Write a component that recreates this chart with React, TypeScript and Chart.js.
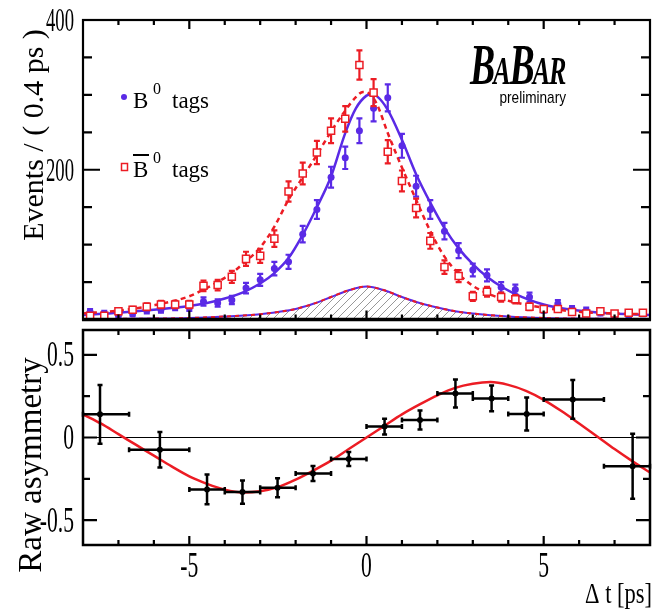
import React, { useEffect, useRef } from "react";
import { Chart, registerables } from "chart.js";
Chart.register(...registerables);

// ---------- data: top panel (events per 0.4 ps bin) ----------
const binCenters = [-7.8, -7.4, -7.0, -6.6, -6.2, -5.8, -5.4, -5.0, -4.6, -4.2, -3.8, -3.4, -3.0, -2.6, -2.2, -1.8, -1.4, -1.0, -0.6, -0.2, 0.2, 0.6, 1.0, 1.4, 1.8, 2.2, 2.6, 3.0, 3.4, 3.8, 4.2, 4.6, 5.0, 5.4, 5.8, 6.2, 6.6, 7.0, 7.4, 7.8];
const b0Tags = [10, 8, 6, 8, 12, 13, 17, 16, 24, 22, 26, 42, 53, 68, 77, 114, 147, 190, 216, 252, 282, 296, 232, 178, 147, 118, 92, 66, 59, 43, 40, 30, 13, 21, 14, 12, 9, 5, 5, 8];
const b0TagErr = [4, 3.5, 3, 3.5, 4, 4, 4.5, 4.5, 5.5, 5, 5.5, 7, 8, 9, 9.5, 11, 12.5, 14, 15, 16.5, 17.5, 18, 16, 14, 12.5, 11, 10, 8.5, 8, 7, 6.5, 6, 4, 5, 4, 4, 3.5, 3, 3, 3.5];
const b0barTags = [5, 5, 11, 13, 17, 20, 20, 20, 45, 46, 57, 81, 85, 108, 171, 195, 223, 252, 268, 340, 303, 224, 185, 149, 105, 70, 58, 31, 37, 30, 27, 17, 14, 14, 10, 8, 11, 8, 9, 9];
const b0barTagErr = [3, 3, 4, 4, 4.5, 5, 5, 5, 7, 7, 8, 9.5, 9.5, 11, 13.5, 14.5, 15.5, 16.5, 17, 19.5, 18, 15.5, 14, 12.5, 10.5, 9, 8, 6, 6.5, 6, 5.5, 4.5, 4, 4, 3.5, 3, 3.5, 3, 3, 3];

// fit curves
const fitB0T = [-8, -7, -6, -5, -4.5, -4, -3.5, -3, -2.6, -2.2, -1.8, -1.4, -1.0, -0.6, -0.3, 0, 0.15, 0.3, 0.6, 1.0, 1.4, 1.8, 2.2, 2.6, 3.0, 3.4, 3.8, 4.2, 5, 5.8, 6.6, 7.4, 8];
const fitB0 = [6, 9, 13, 18, 22, 28, 36, 48, 62, 82, 113, 150, 191, 249, 282, 299, 301, 298, 280, 240, 194, 156, 122, 95, 74, 57, 44, 34, 20, 13, 9, 7, 6];
const fitB0barT = [-8, -7, -6, -5, -4.6, -4.2, -3.8, -3.4, -3.0, -2.6, -2.2, -1.8, -1.4, -1.0, -0.6, -0.3, -0.1, 0.1, 0.3, 0.6, 1.0, 1.4, 1.8, 2.2, 2.6, 3.0, 3.8, 4.6, 5.8, 7, 8];
const fitB0bar = [8, 12, 19, 31, 40, 50, 62, 78, 96, 124, 160, 190, 220, 251, 279, 297, 304, 301, 287, 249, 203, 160, 118, 84, 61, 45, 28, 19, 11, 8, 7];
const bkgT = [-8, -7, -6, -5, -4, -3, -2.5, -2, -1.5, -1, -0.5, 0, 0.5, 1, 1.5, 2, 2.5, 3, 4, 5, 6, 7, 8];
const bkgYield = [0.5, 0.8, 1.2, 2, 4, 7, 10, 14, 21, 30, 39, 44, 39, 30, 22, 16, 11, 8, 4, 2, 1.2, 0.8, 0.5];

// ---------- data: bottom panel (raw asymmetry) ----------
const asymT = [-7.52, -5.83, -4.5, -3.5, -2.51, -1.51, -0.5, 0.51, 1.51, 2.51, 3.53, 4.52, 5.82, 7.51];
const asymV = [0.14, -0.074, -0.314, -0.33, -0.304, -0.218, -0.13, 0.066, 0.106, 0.266, 0.236, 0.142, 0.23, -0.174];
const asymErr = [0.178, 0.108, 0.09, 0.07, 0.057, 0.045, 0.043, 0.048, 0.058, 0.085, 0.078, 0.1, 0.117, 0.197];
const asymXLo = [-8, -6.7, -5, -4, -3, -2, -1, 0, 1, 2, 3, 4, 5, 6.7];
const asymXHi = [-6.7, -5, -4, -3, -2, -1, 0, 1, 2, 3, 4, 5, 6.7, 8];
const asymFitT = [-8, -7.5, -7, -6.5, -6, -5.5, -5, -4.5, -4, -3.5, -3, -2.5, -2, -1.5, -1, -0.5, 0, 0.5, 1, 1.5, 2, 2.5, 3, 3.5, 4, 4.5, 5, 5.5, 6, 6.5, 7, 7.5, 8];
const asymFit = [0.14, 0.085, 0.02, -0.045, -0.11, -0.175, -0.235, -0.28, -0.315, -0.332, -0.325, -0.3, -0.255, -0.2, -0.14, -0.07, 0, 0.07, 0.14, 0.2, 0.255, 0.3, 0.325, 0.335, 0.318, 0.282, 0.228, 0.16, 0.085, 0.008, -0.07, -0.143, -0.212];

// ---------- axis ticks ----------
const xMajorTicks = [-5, 0, 5];
const xMinorTicks = [-7, -6, -4, -3, -2, -1, 1, 2, 3, 4, 6, 7];
const topYMajor = [0, 200, 400];
const topYMinor = [50, 100, 150, 250, 300, 350];
const topYLabelVals = [200, 400];
const topYLabels = ["200", "400"];
const botYMajor = [-0.5, 0, 0.5];
const botYMinor = [-0.25, 0.25];
const botYLabelVals = [-0.5, 0, 0.5];
const botYLabels = ["-0.5", "0", "0.5"];
const botXLabelVals = [-5, 0, 5];
const botXLabels = ["-5", "0", "5"];

const BLUE = "#5a2ae6";
const RED = "#ec1c24";
const SERIF = "'Liberation Serif', 'DejaVu Serif', serif";
const SANS = "'Liberation Sans', 'DejaVu Sans', sans-serif";

type TxtOpt = { align?: CanvasTextAlign; base?: CanvasTextBaseline; sx?: number; sy?: number; rot?: number; color?: string };
function txt(ctx: CanvasRenderingContext2D, s: string, x: number, y: number, font: string, o: TxtOpt = {}) {
  ctx.save();
  ctx.translate(x, y);
  if (o.rot) ctx.rotate(o.rot);
  ctx.scale(o.sx ?? 1, o.sy ?? 1);
  ctx.font = font;
  ctx.textAlign = o.align ?? "left";
  ctx.textBaseline = o.base ?? "alphabetic";
  ctx.fillStyle = o.color ?? "#000";
  ctx.fillText(s, 0, 0);
  ctx.restore();
}

const errorBars = {
  id: "errorBars",
  beforeDatasetDraw(chart: any, args: any) {
    const ds: any = chart.data.datasets[args.index];
    if (!ds.errY) return;
    const ctx: CanvasRenderingContext2D = chart.ctx;
    const xs = chart.scales.x, ys = chart.scales.y;
    const cap = ds.errCap ?? 3;
    ctx.save();
    ctx.strokeStyle = ds.errColor;
    ctx.lineWidth = ds.errWidth ?? 2;
    ctx.beginPath();
    ds.data.forEach((p: any, i: number) => {
      const px = xs.getPixelForValue(p.x);
      const py = ys.getPixelForValue(p.y);
      const yt = ys.getPixelForValue(p.y + ds.errY[i]);
      const yb = ys.getPixelForValue(p.y - ds.errY[i]);
      ctx.moveTo(px, yt); ctx.lineTo(px, yb);
      ctx.moveTo(px - cap, yt); ctx.lineTo(px + cap, yt);
      ctx.moveTo(px - cap, yb); ctx.lineTo(px + cap, yb);
      if (ds.errXLo) {
        const xl = xs.getPixelForValue(ds.errXLo[i]);
        const xh = xs.getPixelForValue(ds.errXHi[i]);
        ctx.moveTo(xl, py); ctx.lineTo(xh, py);
        ctx.moveTo(xl, py - cap); ctx.lineTo(xl, py + cap);
        ctx.moveTo(xh, py - cap); ctx.lineTo(xh, py + cap);
      }
    });
    ctx.stroke();
    ctx.restore();
  },
};

function drawFrame(chart: any, c: any) {
  const ctx: CanvasRenderingContext2D = chart.ctx;
  const a = chart.chartArea;
  const xs = chart.scales.x, ys = chart.scales.y;
  ctx.save();
  ctx.strokeStyle = "#000";
  ctx.lineWidth = c.lw;
  ctx.strokeRect(a.left, a.top, a.right - a.left, a.bottom - a.top);
  if (c.bottomLw) {
    ctx.lineWidth = c.bottomLw;
    ctx.beginPath(); ctx.moveTo(a.left - 1, a.bottom); ctx.lineTo(a.right + 1, a.bottom); ctx.stroke();
  }
  ctx.lineWidth = 2.2;
  ctx.beginPath();
  const yt = (vals: number[], len: number) => vals.forEach((v) => {
    const py = ys.getPixelForValue(v);
    ctx.moveTo(a.left, py); ctx.lineTo(a.left + len, py);
    ctx.moveTo(a.right, py); ctx.lineTo(a.right - len, py);
  });
  const xt = (vals: number[], len: number) => vals.forEach((v) => {
    const px = xs.getPixelForValue(v);
    ctx.moveTo(px, a.top); ctx.lineTo(px, a.top + len);
    ctx.moveTo(px, a.bottom); ctx.lineTo(px, a.bottom - len);
  });
  yt(c.yMajor, c.yMajorLen); yt(c.yMinor, c.yMinorLen);
  xt(xMajorTicks, 9); xt(xMinorTicks, 5);
  ctx.stroke();
  ctx.restore();
}

export default function App() {
  const topRef = useRef<HTMLCanvasElement>(null);
  const botRef = useRef<HTMLCanvasElement>(null);

  useEffect(() => {
    const pc = document.createElement("canvas");
    pc.width = 8; pc.height = 8;
    const pctx = pc.getContext("2d")!;
    pctx.strokeStyle = "#8c8c8c";
    pctx.lineWidth = 0.9;
    pctx.beginPath();
    pctx.moveTo(0, 8); pctx.lineTo(8, 0);
    pctx.moveTo(-1, 1); pctx.lineTo(1, -1);
    pctx.moveTo(7, 9); pctx.lineTo(9, 7);
    pctx.stroke();
    const hatch = topRef.current!.getContext("2d")!.createPattern(pc, "repeat");

    const line = (t: number[], v: number[]) => t.map((x, i) => ({ x, y: v[i] }));

    const topDecor = {
      id: "topDecor",
      afterDraw(chart: any) {
        const ctx: CanvasRenderingContext2D = chart.ctx;
        const a = chart.chartArea;
        const ys = chart.scales.y;
        drawFrame(chart, { lw: 2.2, bottomLw: 3.5, yMajor: topYMajor, yMinor: topYMinor, yMajorLen: 17, yMinorLen: 9 });
        topYLabelVals.forEach((v, i) => {
          txt(ctx, topYLabels[i], a.left - 9, ys.getPixelForValue(v) + 2, `34px ${SERIF}`, { align: "right", base: "middle", sx: 0.55 });
        });
        txt(ctx, "Events / ( 0.4 ps )", 35, 135, `30px ${SERIF}`, { align: "center", base: "middle", rot: -Math.PI / 2 });
        // legend
        ctx.save();
        ctx.fillStyle = BLUE;
        ctx.beginPath(); ctx.arc(124, 97, 3, 0, Math.PI * 2); ctx.fill();
        ctx.strokeStyle = RED; ctx.lineWidth = 1.5; ctx.fillStyle = "#fff";
        ctx.fillRect(121.5, 163.5, 6, 7); ctx.strokeRect(121.5, 163.5, 6, 7);
        ctx.restore();
        txt(ctx, "B", 133, 108, `23px ${SERIF}`);
        txt(ctx, "0", 153, 94, `16px ${SERIF}`);
        txt(ctx, "tags", 172, 108, `23px ${SERIF}`);
        txt(ctx, "B", 133, 177, `23px ${SERIF}`);
        ctx.save();
        ctx.strokeStyle = "#000"; ctx.lineWidth = 2;
        ctx.beginPath(); ctx.moveTo(133, 155); ctx.lineTo(149, 155); ctx.stroke();
        ctx.restore();
        txt(ctx, "0", 153, 163, `16px ${SERIF}`);
        txt(ctx, "tags", 172, 177, `23px ${SERIF}`);
        // logo
        const parts: [string, number][] = [["B", 58], ["A", 40], ["B", 58], ["A", 40], ["R", 40]];
        let lx = 470;
        const sx = 0.65;
        parts.forEach(([ch, size]) => {
          const f = `italic bold ${size}px ${SERIF}`;
          txt(ctx, ch, lx, 84, f, { sx });
          ctx.save(); ctx.font = f; const w = ctx.measureText(ch).width; ctx.restore();
          lx += w * sx - (size > 45 ? 2 : 1);
        });
        txt(ctx, "preliminary", 566, 103, `17px ${SANS}`, { align: "right", sx: 0.8 });
      },
    };

    const topChart = new Chart(topRef.current!, {
      type: "line",
      data: {
        datasets: [
          { label: "bkg", data: line(bkgT, bkgYield), borderColor: BLUE, borderWidth: 2, backgroundColor: hatch as any, fill: "origin", pointRadius: 0, cubicInterpolationMode: "monotone", order: 10 },
          { label: "bkg dashed", data: line(bkgT, bkgYield), borderColor: RED, borderWidth: 2, borderDash: [4, 4], fill: false, pointRadius: 0, cubicInterpolationMode: "monotone", order: 9 },
          { label: "B0 fit", data: line(fitB0T, fitB0), borderColor: BLUE, borderWidth: 2.5, fill: false, pointRadius: 0, cubicInterpolationMode: "monotone", order: 8 },
          { label: "B0bar fit", data: line(fitB0barT, fitB0bar), borderColor: RED, borderWidth: 2.5, borderDash: [5, 4], fill: false, pointRadius: 0, cubicInterpolationMode: "monotone", order: 7 },
          { label: "B0 tags", data: line(binCenters, b0Tags), showLine: false, pointStyle: "circle", pointRadius: 3.5, pointBackgroundColor: BLUE, pointBorderColor: BLUE, pointBorderWidth: 0, errY: b0TagErr, errColor: BLUE, errWidth: 2.2, errCap: 3, order: 2 } as any,
          { label: "B0bar tags", data: line(binCenters, b0barTags), showLine: false, pointStyle: "rect", pointRadius: 5, pointBackgroundColor: "#fff", pointBorderColor: RED, pointBorderWidth: 1.5, errY: b0barTagErr, errColor: RED, errWidth: 2.2, errCap: 3, order: 1 } as any,
        ],
      },
      options: {
        responsive: false,
        animation: false,
        devicePixelRatio: 1,
        events: [],
        layout: { padding: { left: 83, top: 20, right: 19, bottom: 4 } },
        scales: {
          x: { type: "linear", min: -8, max: 8, display: false },
          y: { type: "linear", min: 0, max: 400, display: false },
        },
        plugins: { legend: { display: false }, tooltip: { enabled: false } },
      },
      plugins: [errorBars, topDecor],
    });

    const OFF = 326;
    const botDecor = {
      id: "botDecor",
      beforeDatasetsDraw(chart: any) {
        const ctx: CanvasRenderingContext2D = chart.ctx;
        const a = chart.chartArea;
        const py = chart.scales.y.getPixelForValue(0);
        ctx.save();
        ctx.strokeStyle = "#000"; ctx.lineWidth = 1.2;
        ctx.beginPath(); ctx.moveTo(a.left, py); ctx.lineTo(a.right, py); ctx.stroke();
        ctx.restore();
      },
      afterDraw(chart: any) {
        const ctx: CanvasRenderingContext2D = chart.ctx;
        const a = chart.chartArea;
        const xs = chart.scales.x, ys = chart.scales.y;
        drawFrame(chart, { lw: 2.5, yMajor: botYMajor, yMinor: botYMinor, yMajorLen: 14, yMinorLen: 7 });
        txt(ctx, "Raw asymmetry", 32, 465 - OFF, `33px ${SERIF}`, { align: "center", base: "middle", rot: -Math.PI / 2 });
        botYLabelVals.forEach((v, i) => {
          txt(ctx, botYLabels[i], a.left - 9, ys.getPixelForValue(v) + 2, `36px ${SERIF}`, { align: "right", base: "middle", sx: 0.6 });
        });
        botXLabelVals.forEach((v, i) => {
          txt(ctx, botXLabels[i], xs.getPixelForValue(v), 568 - OFF, `36px ${SERIF}`, { align: "center", base: "middle", sx: 0.6 });
        });
        txt(ctx, "\u0394 t [ps]", 652, 603 - OFF, `30px ${SERIF}`, { align: "right", sx: 0.75 });
      },
    };

    const botChart = new Chart(botRef.current!, {
      type: "line",
      data: {
        datasets: [
          { label: "asym fit", data: line(asymFitT, asymFit), borderColor: RED, borderWidth: 2.5, fill: false, pointRadius: 0, cubicInterpolationMode: "monotone", order: 5 },
          { label: "raw asymmetry", data: line(asymT, asymV), showLine: false, pointStyle: "circle", pointRadius: 3, pointBackgroundColor: "#000", pointBorderColor: "#000", pointBorderWidth: 0, errY: asymErr, errXLo: asymXLo, errXHi: asymXHi, errColor: "#000", errWidth: 2.5, errCap: 2.5, order: 1 } as any,
        ],
      },
      options: {
        responsive: false,
        animation: false,
        devicePixelRatio: 1,
        events: [],
        layout: { padding: { left: 83, top: 3, right: 19, bottom: 64 } },
        scales: {
          x: { type: "linear", min: -8, max: 8, display: false },
          y: { type: "linear", min: -0.65, max: 0.65, display: false },
        },
        plugins: { legend: { display: false }, tooltip: { enabled: false } },
      },
      plugins: [errorBars, botDecor],
    });

    return () => {
      topChart.destroy();
      botChart.destroy();
    };
  }, []);

  return (
    <div style={{ position: "absolute", left: 0, top: 0, width: 669, height: 609, background: "#fff" }}>
      <canvas ref={topRef} width={669} height={326} style={{ position: "absolute", left: 0, top: 0 }} />
      <canvas ref={botRef} width={669} height={283} style={{ position: "absolute", left: 0, top: 326 }} />
    </div>
  );
}
